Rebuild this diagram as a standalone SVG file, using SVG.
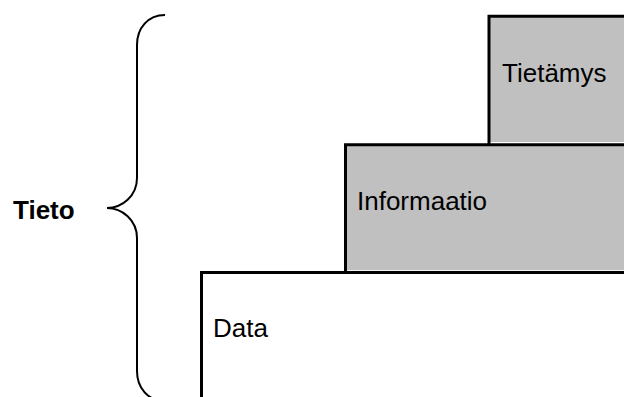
<svg xmlns="http://www.w3.org/2000/svg" width="624" height="397" viewBox="0 0 624 397">
<style>
.fill{fill:#c0c0c0;stroke:none}
.edge{fill:none;stroke:#000;stroke-width:3}
.lbl{font-family:"Liberation Sans",Arial,sans-serif;font-size:26px;fill:#000}
.brace{fill:none;stroke:#000;stroke-width:2}
</style>
<rect width="624" height="397" fill="#fff"/>
<g id="tietamys">
<rect class="fill" x="489" y="16" width="140" height="126"/>
<path class="edge" d="M489,145 V16.3 H630"/>
<text class="lbl" x="502" y="82">Tietämys</text>
</g>
<g id="informaatio">
<rect class="fill" x="345.5" y="144.7" width="290" height="125.5"/>
<path class="edge" d="M345.5,273 V144.7 H630"/>
<text class="lbl" x="357" y="210">Informaatio</text>
</g>
<g id="data">
<path class="edge" d="M201.5,400 V272.5 H630"/>
<text class="lbl" x="213" y="337">Data</text>
</g>
<g id="tieto">
<path class="brace" d="M165,15 C148,15 137,28 137,45 L137,178 C137,196 122,208 107,208 C122,208 137,220 137,238 L137,371 C137,388 148,401 165,401"/>
<text class="lbl" x="13" y="219" font-weight="bold">Tieto</text>
</g>
</svg>
